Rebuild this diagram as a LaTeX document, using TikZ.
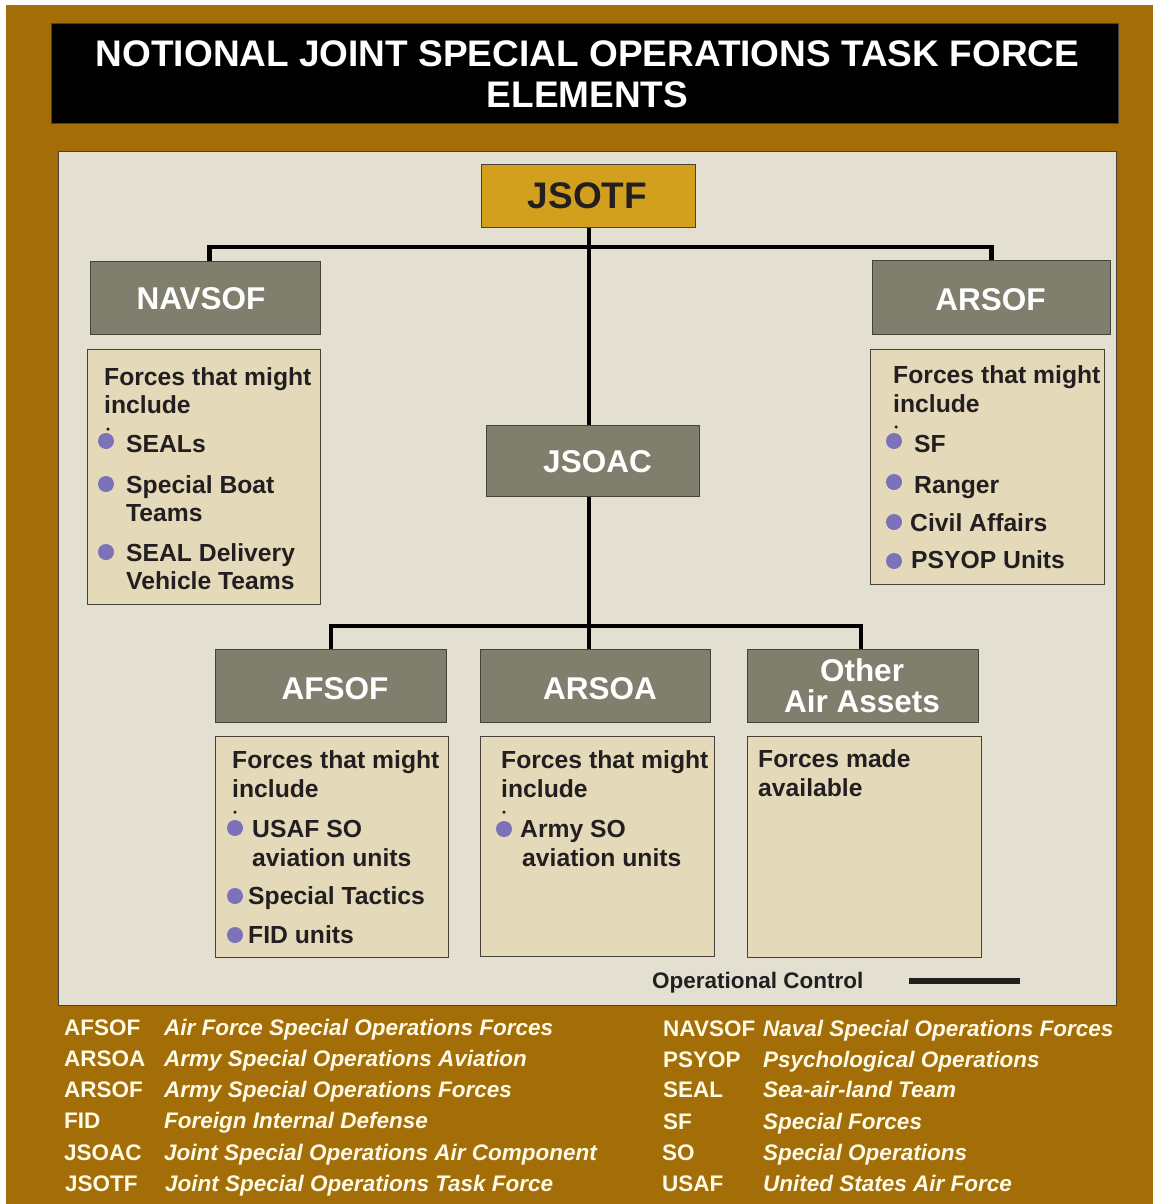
\documentclass[tikz,border=0pt]{standalone}
\usepackage{fontspec}
\setmainfont{Liberation Sans}
\definecolor{brownbg}{RGB}{163,110,8}
\definecolor{panel}{RGB}{227,224,209}
\definecolor{grayhead}{RGB}{128,127,110}
\definecolor{beige}{RGB}{228,218,186}
\definecolor{gold}{RGB}{211,160,30}
\definecolor{bulletc}{RGB}{123,114,186}
\definecolor{darktext}{RGB}{35,31,32}
\definecolor{cream}{RGB}{255,250,230}
\definecolor{edge}{RGB}{70,66,58}
\newcommand\fsz[1]{\fontsize{#1}{#1}\selectfont}
\begin{document}
\begin{tikzpicture}[x=1pt,y=-1pt,
  headbox/.style={draw=edge,line width=0.8pt,fill=grayhead,inner sep=0pt,anchor=north west},
  headtext/.style={anchor=base,inner sep=0pt,text=white,font=\fsz{31.5}\bfseries},
  listbox/.style={draw=edge,line width=0.8pt,fill=beige,inner sep=0pt,anchor=north west},
  ltext/.style={anchor=base west,inner sep=0pt,text=darktext,font=\fsz{24.7}\bfseries},
  bul/.style={circle,fill=bulletc,inner sep=0pt,minimum size=16pt},
  tdot/.style={circle,fill=darktext,inner sep=0pt,minimum size=3.5pt},
  conn/.style={line width=4.5pt,draw=black,line join=miter},
  abbr/.style={anchor=base west,inner sep=0pt,text=cream,font=\fsz{22.5}\bfseries},
  expn/.style={anchor=base west,inner sep=0pt,text=cream,font=\fsz{22.5}\bfseries\itshape}]
\useasboundingbox (0,0) rectangle (1153,1204);
\fill[white] (0,0) rectangle (1153,1204);
\fill[brownbg] (6,5) rectangle (1153,1204);
% title
\node[draw=edge,line width=0.8pt,fill=black,inner sep=0pt,anchor=north west,minimum width=1067pt,minimum height=100pt] (titlebox) at (51,23) {};
\node[anchor=base,inner sep=0pt,text=white,font=\fsz{37}\bfseries] (t1) at (587.5,67) {NOTIONAL JOINT SPECIAL OPERATIONS TASK FORCE};
\node[anchor=base,inner sep=0pt,text=white,font=\fsz{37}\bfseries] (t2) at (587.5,108) {ELEMENTS};
% panel
\node[draw=edge,line width=0.8pt,fill=panel,inner sep=0pt,anchor=north west,minimum width=1058pt,minimum height=854pt] (panelbox) at (58,151) {};
% head boxes
\node[draw=edge,line width=0.8pt,fill=gold,inner sep=0pt,anchor=north west,minimum width=214pt,minimum height=63pt] (jsotf) at (481,164) {};
\node[anchor=base,inner sep=0pt,text=darktext,font=\fsz{37}\bfseries] (jsotft) at (587.5,208) {JSOTF};
\node[headbox,minimum width=230pt,minimum height=73pt] (navsof) at (90,261) {};
\node[headtext] (navsoft) at (201,309) {NAVSOF};
\node[headbox,minimum width=238pt,minimum height=74pt] (arsof) at (872,260) {};
\node[headtext] (arsoft) at (990.5,310) {ARSOF};
\node[headbox,minimum width=213pt,minimum height=71pt] (jsoac) at (486,425) {};
\node[headtext] (jsoact) at (597.5,472) {JSOAC};
\node[headbox,minimum width=231pt,minimum height=73pt] (afsof) at (215,649) {};
\node[headtext] (afsoft) at (335,699) {AFSOF};
\node[headbox,minimum width=230pt,minimum height=73pt] (arsoa) at (480,649) {};
\node[headtext] (arsoat) at (600,699) {ARSOA};
\node[headbox,minimum width=231pt,minimum height=73pt] (other) at (747,649) {};
\node[headtext] (oth1) at (862,681) {Other};
\node[headtext] (oth2) at (862,712) {Air Assets};
% connectors
\coordinate (spine) at (589,247);
\draw[conn] (jsotf.south -| spine) -- (jsoac.north -| spine);
\draw[conn] ([xshift=4pt]navsof.north) -- ([xshift=4pt]navsof.north |- spine) -| (arsof.north);
\draw[conn] (jsoac.south -| spine) -- (arsoa.north -| spine);
\coordinate (lowbar) at (589,626);
\draw[conn] (afsof.north) -- (afsof.north |- lowbar) -| ([xshift=-2pt]other.north);
% NAVSOF list
\node[listbox,minimum width=233pt,minimum height=255pt] (navlist) at (87,349) {};
\node[ltext] (n1) at (104,385) {Forces that might};
\node[ltext] (n2) at (104,413) {include};
\node[tdot] (nd) at (108,429) {};
\node[bul] (nb1) at (106,441) {};
\node[ltext] (n3) at (126,452) {SEALs};
\node[bul] (nb2) at (106,484) {};
\node[ltext] (n4) at (126,493) {Special Boat};
\node[ltext] (n5) at (126,521) {Teams};
\node[bul] (nb3) at (106,552) {};
\node[ltext] (n6) at (126,561) {SEAL Delivery};
\node[ltext] (n7) at (126,589) {Vehicle Teams};
% ARSOF list
\node[listbox,minimum width=234pt,minimum height=235pt] (arlist) at (870,349) {};
\node[ltext] (a1) at (893,383) {Forces that might};
\node[ltext] (a2) at (893,412) {include};
\node[tdot] (ad) at (896,427) {};
\node[bul] (ab1) at (894,441) {};
\node[ltext] (a3) at (914,452) {SF};
\node[bul] (ab2) at (894,482) {};
\node[ltext] (a4) at (914,493) {Ranger};
\node[bul] (ab3) at (894,522) {};
\node[ltext] (a5) at (910,531) {Civil Affairs};
\node[bul] (ab4) at (894,561) {};
\node[ltext] (a6) at (911,568) {PSYOP Units};
% AFSOF list
\node[listbox,minimum width=233pt,minimum height=221pt] (aflist) at (215,736) {};
\node[ltext] (f1) at (232,768) {Forces that might};
\node[ltext] (f2) at (232,797) {include};
\node[tdot] (fd) at (235,812) {};
\node[bul] (fb1) at (235,828) {};
\node[ltext] (f3) at (252,837) {USAF SO};
\node[ltext] (f4) at (252,866) {aviation units};
\node[bul] (fb2) at (235,896) {};
\node[ltext] (f5) at (248,904) {Special Tactics};
\node[bul] (fb3) at (235,935) {};
\node[ltext] (f6) at (248,943) {FID units};
% ARSOA list
\node[listbox,minimum width=234pt,minimum height=220pt] (aalist) at (480,736) {};
\node[ltext] (s1) at (501,768) {Forces that might};
\node[ltext] (s2) at (501,797) {include};
\node[tdot] (sd) at (504,812) {};
\node[bul] (sb1) at (504,829) {};
\node[ltext] (s3) at (520,837) {Army SO};
\node[ltext] (s4) at (522,866) {aviation units};
% Other list
\node[listbox,minimum width=234pt,minimum height=221pt] (otlist) at (747,736) {};
\node[ltext] (o1) at (758,767) {Forces made};
\node[ltext] (o2) at (758,796) {available};
% legend
\node[ltext,font=\fsz{22.5}\bfseries] (opc) at (652,988) {Operational Control};
\coordinate (opl1) at (909,981);
\coordinate (opl2) at (1020,981);
\draw[line width=5.5pt,draw=darktext] (opl1) -- (opl2);
% abbreviations
\node[abbr] (ab01) at (64,1035) {AFSOF};   \node[expn] (ex01) at (164,1035) {Air Force Special Operations Forces};
\node[abbr] (ab02) at (64,1066) {ARSOA};   \node[expn] (ex02) at (164,1066) {Army Special Operations Aviation};
\node[abbr] (ab03) at (64,1097) {ARSOF};   \node[expn] (ex03) at (164,1097) {Army Special Operations Forces};
\node[abbr] (ab04) at (64,1128) {FID};     \node[expn] (ex04) at (164,1128) {Foreign Internal Defense};
\node[abbr] (ab05) at (64,1160) {JSOAC};   \node[expn] (ex05) at (164,1160) {Joint Special Operations Air Component};
\node[abbr] (ab06) at (65,1191) {JSOTF};   \node[expn] (ex06) at (165,1191) {Joint Special Operations Task Force};
\node[abbr] (ab07) at (663,1036) {NAVSOF}; \node[expn] (ex07) at (763,1036) {Naval Special Operations Forces};
\node[abbr] (ab08) at (663,1067) {PSYOP};  \node[expn] (ex08) at (763,1067) {Psychological Operations};
\node[abbr] (ab09) at (663,1097) {SEAL};   \node[expn] (ex09) at (763,1097) {Sea-air-land Team};
\node[abbr] (ab10) at (663,1129) {SF};     \node[expn] (ex10) at (763,1129) {Special Forces};
\node[abbr] (ab11) at (662,1160) {SO};     \node[expn] (ex11) at (763,1160) {Special Operations};
\node[abbr] (ab12) at (662,1191) {USAF};   \node[expn] (ex12) at (763,1191) {United States Air Force};
\end{tikzpicture}
\end{document}
